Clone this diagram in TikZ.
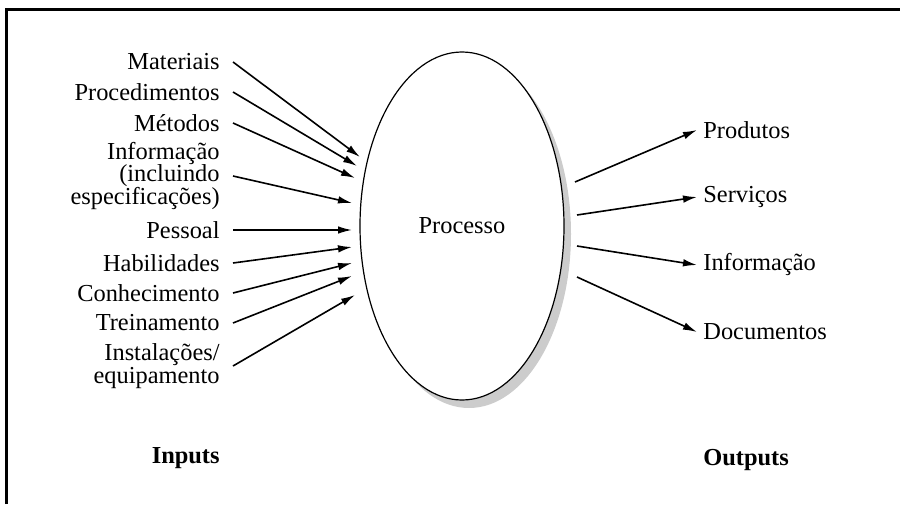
\documentclass[tikz,border=0pt]{standalone}
\usepackage{fontspec}
\setmainfont{Liberation Serif}
\usetikzlibrary{arrows.meta, shapes.geometric, shadows}
\newcommand{\tightlines}{\lineskiplimit=-6pt\relax}

\begin{document}
\begin{tikzpicture}[x=0.5pt, y=-0.5pt,
  item/.style={font=\fontsize{12.2}{11.4}\selectfont\tightlines,
               inner xsep=6.5pt, inner ysep=1pt},
  input/.style={item, anchor=east, align=right},
  output/.style={item, anchor=west, align=left, inner xsep=3pt},
  heading/.style={font=\fontsize{12.2}{14}\selectfont\bfseries, inner sep=0pt},
  flow/.style={line width=0.8pt, -{Latex[length=7pt, width=3.8pt]}},
  process/.style={ellipse, draw, line width=0.6pt, fill=white,
                  minimum width=102pt, minimum height=174pt,
                  font=\fontsize{12.2}{14}\selectfont,
                  drop shadow={shadow xshift=3.5pt, shadow yshift=-4pt,
                               fill=gray!40, opacity=1}},
]
\useasboundingbox (0,0) rectangle (900,504);

% frame
\draw[line width=1.5pt] (6,504) -- (6,9) -- (900,9);

\node[process] (proc) at (462,226) {Processo};

% inputs
\node[input] (mat) at (233,62) {Materiais};
\node[input] (pro) at (233,92) {Procedimentos};
\node[input] (met) at (233,123) {Métodos};
\node[input] (inf) at (233,176) {Informação\\(incluindo\\especificações)};
\node[input] (pes) at (233,230) {Pessoal};
\node[input] (hab) at (233,263) {Habilidades};
\node[input] (con) at (233,293) {Conhecimento};
\node[input] (tre) at (233,323) {Treinamento};
\node[input] (ins) at (233,366) {Instalações/\\equipamento};

\coordinate (i1) at (360,157);
\coordinate (i2) at (357,166);
\coordinate (i3) at (355,178);
\coordinate (i4) at (352,203);
\coordinate (i5) at (352,230);
\coordinate (i6) at (352,247);
\coordinate (i7) at (352,263);
\coordinate (i8) at (352,276);
\coordinate (i9) at (355,295);

\draw[flow] (mat.east) -- (i1);
\draw[flow] (pro.east) -- (i2);
\draw[flow] (met.east) -- (i3);
\draw[flow] (inf.east) -- (i4);
\draw[flow] (pes.east) -- (i5);
\draw[flow] (hab.east) -- (i6);
\draw[flow] (con.east) -- (i7);
\draw[flow] (tre.east) -- (i8);
\draw[flow] (ins.east) -- (i9);

% outputs
\node[output] (prd) at (697,130) {Produtos};
\node[output] (srv) at (697,197) {Serviços};
\node[output] (oinf) at (697,265) {Informação};
\node[output] (doc) at (697,332) {Documentos};

\coordinate (o1) at (575,182);
\coordinate (o2) at (577,215);
\coordinate (o3) at (577,246);
\coordinate (o4) at (577,277);

\draw[flow] (o1) -- (prd.west);
\draw[flow] (o2) -- (srv.west);
\draw[flow] (o3) -- (oinf.west);
\draw[flow] (o4) -- (doc.west);

\node[heading, anchor=east] (inputs) at (220,458) {Inputs};
\node[heading, anchor=west] (outputs) at (703,460) {Outputs};

\end{tikzpicture}
\end{document}
